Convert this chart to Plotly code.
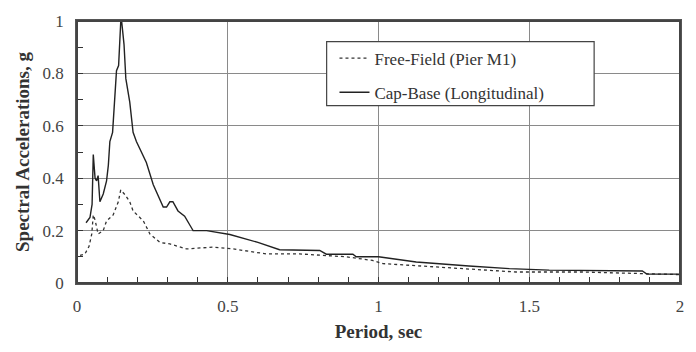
import plotly.graph_objects as go

# Cap-Base (Longitudinal) - solid
cap_period = [0.030, 0.043, 0.050, 0.054, 0.060, 0.065, 0.070, 0.076, 0.087, 0.098, 0.104, 0.109,
              0.118, 0.126, 0.131, 0.138, 0.145, 0.148, 0.156, 0.162, 0.175, 0.186, 0.197, 0.230,
              0.253, 0.286, 0.297, 0.308, 0.318, 0.335, 0.357, 0.380, 0.385, 0.430, 0.495, 0.507,
              0.600, 0.672, 0.805, 0.827, 0.915, 0.926, 1.000, 1.125, 1.300, 1.434, 1.566, 1.875,
              1.890, 2.000]
cap_sa = [0.23, 0.25, 0.30, 0.49, 0.40, 0.39, 0.41, 0.31, 0.34, 0.39, 0.45, 0.54,
          0.575, 0.71, 0.81, 0.83, 0.995, 1.00, 0.91, 0.78, 0.69, 0.575, 0.54, 0.46,
          0.375, 0.29, 0.29, 0.31, 0.31, 0.275, 0.255, 0.21, 0.20, 0.20, 0.187, 0.185,
          0.155, 0.127, 0.124, 0.11, 0.11, 0.10, 0.10, 0.08, 0.065, 0.055, 0.049, 0.046,
          0.034, 0.034]

# Free-Field (Pier M1) - dotted
ff_period = [0.010, 0.026, 0.040, 0.049, 0.054, 0.060, 0.070, 0.087, 0.098, 0.120, 0.137, 0.145,
             0.159, 0.175, 0.186, 0.220, 0.242, 0.275, 0.308, 0.363, 0.451, 0.518, 0.628, 0.738,
             0.893, 0.980, 1.015, 1.150, 1.290, 1.456, 1.676, 1.864, 2.000]
ff_sa = [0.105, 0.11, 0.14, 0.187, 0.26, 0.24, 0.187, 0.20, 0.237, 0.26, 0.31, 0.355,
         0.337, 0.31, 0.275, 0.237, 0.187, 0.155, 0.149, 0.13, 0.137, 0.13, 0.111, 0.111,
         0.10, 0.086, 0.074, 0.065, 0.055, 0.042, 0.042, 0.036, 0.032]

x_ticks = [0, 0.5, 1, 1.5, 2]
x_labels = ["0", "0.5", "1", "1.5", "2"]
y_ticks = [0, 0.2, 0.4, 0.6, 0.8, 1]
y_labels = ["0", "0.2", "0.4", "0.6", "0.8", "1"]

series_names = ["Free-Field (Pier M1)", "Cap-Base (Longitudinal)"]

FONT = "Liberation Serif"

fig = go.Figure()
fig.add_trace(go.Scatter(x=ff_period, y=ff_sa, mode="lines", name=series_names[0],
                         legendgroup="ff",
                         line=dict(color="#333333", width=1.3, dash="dot")))
fig.add_trace(go.Scatter(x=cap_period, y=cap_sa, mode="lines", name=series_names[1],
                         legendgroup="cap",
                         line=dict(color="#222222", width=1.4)))

# legend frame (white box with border) and plot frame
fig.add_shape(type="rect", xref="paper", yref="paper", x0=0.414, x1=0.8576, y0=0.677, y1=0.921,
              line=dict(color="#444444", width=1.2), fillcolor="white", layer="above")
fig.add_shape(type="rect", xref="paper", yref="paper", x0=0, x1=1, y0=0, y1=1,
              line=dict(color="#444444", width=2), fillcolor="rgba(0,0,0,0)", layer="above")

fig.update_layout(
    width=696, height=352,
    margin=dict(l=77, r=15, t=18, b=69),
    paper_bgcolor="white", plot_bgcolor="white",
    font=dict(family=FONT, size=15, color="#333333"),
    showlegend=True,
    legend=dict(x=0.427, y=0.925, xanchor="left", yanchor="top",
                borderwidth=0, bgcolor="rgba(0,0,0,0)",
                font=dict(family=FONT, size=17, color="#333333"),
                traceorder="grouped", tracegroupgap=9),
    xaxis=dict(range=[0, 2], tickvals=x_ticks, ticktext=x_labels,
               showgrid=True, gridcolor="#8a8a8a", gridwidth=1,
               showline=True, linecolor="#555555", linewidth=1.5, mirror=True,
               ticks="outside", ticklen=7, tickcolor="rgba(0,0,0,0)",
               minor=dict(dtick=0.1, ticks="inside", ticklen=6, tickcolor="#333333", showgrid=False),
               zeroline=False,
               tickfont=dict(family=FONT, size=17, color="#444444"),
               title=dict(text="<b>Period, sec</b>", font=dict(family=FONT, size=19, color="#333333"),
                          standoff=10)),
    yaxis=dict(range=[0, 1], tickvals=y_ticks, ticktext=y_labels,
               showgrid=True, gridcolor="#8a8a8a", gridwidth=1,
               showline=True, linecolor="#555555", linewidth=1.5, mirror=True,
               ticks="outside", ticklen=8, tickcolor="rgba(0,0,0,0)",
               minor=dict(dtick=0.1, ticks="inside", ticklen=6, tickcolor="#333333", showgrid=False),
               zeroline=False,
               tickfont=dict(family=FONT, size=17, color="#444444"),
               title=dict(text="<b>Spectral Accelerations, g</b>",
                          font=dict(family=FONT, size=19, color="#333333"), standoff=8)),
)

fig.write_html("out.html", config={"displayModeBar": False},
               post_script="document.body.style.margin='0';document.body.style.overflow='hidden';")
